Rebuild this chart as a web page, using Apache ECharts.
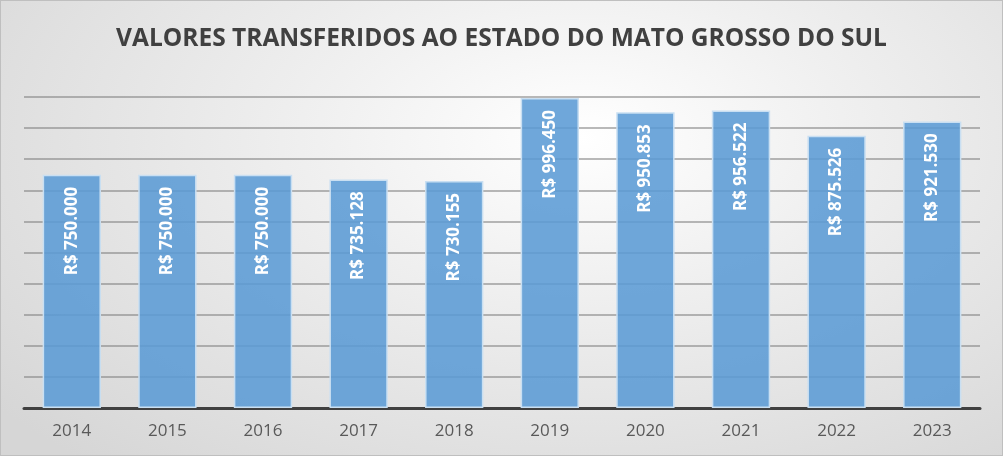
<!DOCTYPE html>
<html><head><meta charset="utf-8">
<script src="https://cdn.jsdelivr.net/npm/echarts@6/dist/echarts.min.js"></script>
<style>
html,body{margin:0;padding:0;}
#c{width:1003px;height:456px;background:radial-gradient(ellipse 75% 95% at 58% 30%, #ffffff 0%, #f0f0f0 35%, #d6d6d6 100%);box-sizing:border-box;border:1px solid #bfbfbf;}
</style></head>
<body><div id="c"></div>
<script>
const title = 'VALORES TRANSFERIDOS AO ESTADO DO MATO GROSSO DO SUL';
const years = ['2014','2015','2016','2017','2018','2019','2020','2021','2022','2023'];
const values = [750000, 750000, 750000, 735128, 730155, 996450, 950853, 956522, 875526, 921530];
const labels = ['R$ 750.000','R$ 750.000','R$ 750.000','R$ 735.128','R$ 730.155','R$ 996.450','R$ 950.853','R$ 956.522','R$ 875.526','R$ 921.530'];

const chart = echarts.init(document.getElementById('c'), null, {renderer:'canvas'});
chart.setOption({
  backgroundColor: 'transparent',
  title: {text: title, left: 'center', top: 21,
    textStyle: {fontFamily: 'Open Sans', fontWeight: 'bold', fontSize: 24.5, color: '#404040'}},
  grid: {left: 23, right: 22, top: 96, bottom: 47, containLabel: false},
  xAxis: {type: 'category', data: years,
    axisLine: {lineStyle: {color: '#404040', width: 3}},
    axisTick: {show: false},
    axisLabel: {fontFamily: 'Open Sans', fontSize: 17, color: '#595959', margin: 15}},
  yAxis: {type: 'value', min: 0, max: 1000000, interval: 100000,
    axisLabel: {show: false}, axisLine: {show: false}, axisTick: {show: false},
    splitLine: {lineStyle: {color: 'rgba(128,128,128,0.55)', width: 2}}},
  series: [{type: 'bar', data: values, barWidth: '61%',
    itemStyle: {color: 'rgba(91,155,213,0.88)', borderColor: '#c9dff2', borderWidth: 1.5},
    label: {show: true, position: 'insideTop', rotate: 90, align: 'right', verticalAlign: 'middle', distance: 12,
      formatter: p => labels[p.dataIndex],
      fontFamily: 'Open Sans', fontWeight: 'bold', fontSize: 17, color: '#ffffff'}}]
});
</script></body></html>
